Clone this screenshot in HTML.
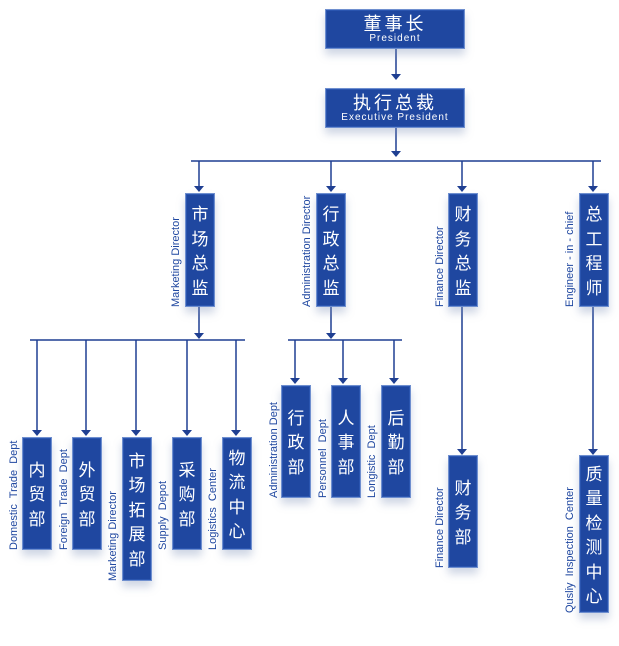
<!DOCTYPE html>
<html><head><meta charset="utf-8"><style>
body{margin:0;width:619px;height:646px;background:#fff;position:relative;overflow:hidden;font-family:"Liberation Sans","Noto Sans CJK SC",sans-serif}
.b{position:absolute;background:#1f47a0;border:1px solid #6f8fcf;box-shadow:inset 0 0 0 1px #2a55b0,0 6px 8px rgba(120,140,180,.35);color:#fff;text-align:center;box-sizing:border-box}
.v{font-family:"Noto Sans CJK SC",sans-serif;font-size:17px;line-height:24.5px;display:flex;flex-direction:column;justify-content:center}
.l{position:absolute;writing-mode:vertical-rl;transform:rotate(180deg);color:#1f47a0;font-size:11px;white-space:pre;line-height:12px}
.h1{font-family:"Noto Sans CJK SC",sans-serif;font-size:18px;line-height:20px;padding-top:3px;letter-spacing:3px}
.h2{font-family:"Liberation Sans",sans-serif;font-size:10px;line-height:12px;color:#fff;letter-spacing:1px}
svg{position:absolute;left:0;top:0}
</style></head><body>
<svg width="619" height="646" stroke="#1f3f92" stroke-width="1.5" fill="#1f3f92">
<line x1="396" y1="49" x2="396" y2="78"/><path d="M391 74h10l-5 6z" stroke="none"/>
<line x1="396" y1="128" x2="396" y2="156"/><path d="M391 151h10l-5 6z" stroke="none"/>
<line x1="191" y1="161" x2="601" y2="161"/>
<g><line x1="199" y1="161" x2="199" y2="191"/><path d="M194 186h10l-5 6z" stroke="none"/>
<line x1="331" y1="161" x2="331" y2="191"/><path d="M326 186h10l-5 6z" stroke="none"/>
<line x1="462" y1="161" x2="462" y2="191"/><path d="M457 186h10l-5 6z" stroke="none"/>
<line x1="593" y1="161" x2="593" y2="191"/><path d="M588 186h10l-5 6z" stroke="none"/></g>
<line x1="199" y1="307" x2="199" y2="338"/><path d="M194 333h10l-5 6z" stroke="none"/>
<line x1="30" y1="340" x2="245" y2="340"/>
<g><line x1="37" y1="340" x2="37" y2="434"/><path d="M32 430h10l-5 6z" stroke="none"/>
<line x1="86" y1="340" x2="86" y2="434"/><path d="M81 430h10l-5 6z" stroke="none"/>
<line x1="136" y1="340" x2="136" y2="434"/><path d="M131 430h10l-5 6z" stroke="none"/>
<line x1="187" y1="340" x2="187" y2="434"/><path d="M182 430h10l-5 6z" stroke="none"/>
<line x1="236" y1="340" x2="236" y2="434"/><path d="M231 430h10l-5 6z" stroke="none"/></g>
<line x1="331" y1="307" x2="331" y2="338"/><path d="M326 333h10l-5 6z" stroke="none"/>
<line x1="288" y1="340" x2="402" y2="340"/>
<g><line x1="295" y1="340" x2="295" y2="382"/><path d="M290 378h10l-5 6z" stroke="none"/>
<line x1="343" y1="340" x2="343" y2="382"/><path d="M338 378h10l-5 6z" stroke="none"/>
<line x1="394" y1="340" x2="394" y2="382"/><path d="M389 378h10l-5 6z" stroke="none"/></g>
<line x1="462" y1="307" x2="462" y2="453"/><path d="M457 449h10l-5 6z" stroke="none"/>
<line x1="593" y1="307" x2="593" y2="453"/><path d="M588 449h10l-5 6z" stroke="none"/>
</svg>

<div class="b" style="left:325px;top:9px;width:140px;height:40px"><div class="h1">董事长</div><div class="h2">President</div></div>
<div class="b" style="left:325px;top:88px;width:140px;height:40px"><div class="h1">执行总裁</div><div class="h2">Executive President</div></div>

<div class="b v" style="left:185px;top:193px;width:30px;height:114px"><div>市</div><div>场</div><div>总</div><div>监</div></div>
<div class="l" style="left:170px;top:210px;height:97px">Marketing Director</div>
<div class="b v" style="left:316px;top:193px;width:30px;height:114px"><div>行</div><div>政</div><div>总</div><div>监</div></div>
<div class="l" style="left:301px;top:185px;height:122px">Administration Director</div>
<div class="b v" style="left:448px;top:193px;width:30px;height:114px"><div>财</div><div>务</div><div>总</div><div>监</div></div>
<div class="l" style="left:434px;top:220px;height:87px">Finance Director</div>
<div class="b v" style="left:579px;top:193px;width:30px;height:114px"><div>总</div><div>工</div><div>程</div><div>师</div></div>
<div class="l" style="left:564px;top:203px;height:104px">Engineer - in - chief</div>

<div class="b v" style="left:22px;top:437px;width:30px;height:113px"><div>内</div><div>贸</div><div>部</div></div>
<div class="l" style="left:8px;top:432px;height:118px">Domestic  Trade  Dept</div>
<div class="b v" style="left:72px;top:437px;width:30px;height:113px"><div>外</div><div>贸</div><div>部</div></div>
<div class="l" style="left:58px;top:440px;height:110px">Foreign  Trade  Dept</div>
<div class="b v" style="left:122px;top:437px;width:30px;height:144px"><div>市</div><div>场</div><div>拓</div><div>展</div><div>部</div></div>
<div class="l" style="left:107px;top:482px;height:99px">Marketing Director</div>
<div class="b v" style="left:172px;top:437px;width:30px;height:113px"><div>采</div><div>购</div><div>部</div></div>
<div class="l" style="left:157px;top:475px;height:75px">Supply  Depot</div>
<div class="b v" style="left:222px;top:437px;width:30px;height:113px"><div>物</div><div>流</div><div>中</div><div>心</div></div>
<div class="l" style="left:207px;top:462px;height:88px">Logistics  Center</div>

<div class="b v" style="left:281px;top:385px;width:30px;height:113px"><div>行</div><div>政</div><div>部</div></div>
<div class="l" style="left:268px;top:392px;height:106px">Administration Dept</div>
<div class="b v" style="left:331px;top:385px;width:30px;height:113px"><div>人</div><div>事</div><div>部</div></div>
<div class="l" style="left:317px;top:410px;height:88px">Personnel  Dept</div>
<div class="b v" style="left:381px;top:385px;width:30px;height:113px"><div>后</div><div>勤</div><div>部</div></div>
<div class="l" style="left:366px;top:416px;height:82px">Longistic  Dept</div>

<div class="b v" style="left:448px;top:455px;width:30px;height:113px"><div>财</div><div>务</div><div>部</div></div>
<div class="l" style="left:434px;top:481px;height:87px">Finance Director</div>
<div class="b v" style="left:579px;top:455px;width:30px;height:158px"><div>质</div><div>量</div><div>检</div><div>测</div><div>中</div><div>心</div></div>
<div class="l" style="left:564px;top:473px;height:140px">Qusliy  Inspection  Center</div>
</body></html>
